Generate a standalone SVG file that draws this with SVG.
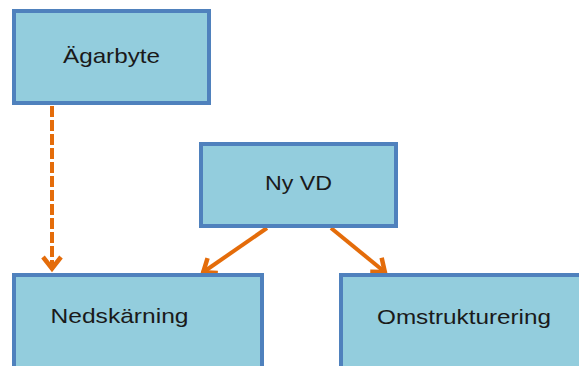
<svg xmlns="http://www.w3.org/2000/svg" width="579" height="366" viewBox="0 0 579 366">
  <style>
    .box { fill: #93CDDD; stroke: #4F81BD; stroke-width: 4; }
    .label { font-family: "Liberation Sans", Arial, sans-serif; font-size: 21px; fill: #1a1a1a; }
    .link { stroke: #E46C0A; stroke-width: 4; fill: none; }
    .dashed { stroke-dasharray: 11 3; }
  </style>
  <defs>
    <marker id="arrow" markerUnits="userSpaceOnUse" viewBox="-20 -15 30 30" markerWidth="30" markerHeight="30" refX="0" refY="0" orient="auto">
      <path d="M-13,-9 L-1.5,0 L-13,9" fill="none" stroke="#E46C0A" stroke-width="4.5" stroke-dasharray="none"/>
    </marker>
  </defs>

  <g id="connectors">
    <line class="link dashed" x1="52" y1="106" x2="52" y2="270" marker-end="url(#arrow)"/>
    <line class="link" x1="267" y1="228" x2="202" y2="273" marker-end="url(#arrow)"/>
    <line class="link" x1="331" y1="228" x2="386" y2="273" marker-end="url(#arrow)"/>
  </g>

  <g id="node-agarbyte">
    <rect class="box" x="14" y="11" width="195" height="92"/>
    <text class="label" x="63" y="62.5" textLength="97" lengthAdjust="spacingAndGlyphs">Ägarbyte</text>
  </g>

  <g id="node-ny-vd">
    <rect class="box" x="201" y="144" width="195" height="82"/>
    <text class="label" x="265" y="190" textLength="67" lengthAdjust="spacingAndGlyphs">Ny VD</text>
  </g>

  <g id="node-nedskarning">
    <rect class="box" x="14" y="275" width="248" height="100"/>
    <text class="label" x="50.5" y="323" textLength="138" lengthAdjust="spacingAndGlyphs">Nedskärning</text>
  </g>

  <g id="node-omstrukturering">
    <rect class="box" x="341" y="275" width="250" height="100"/>
    <text class="label" x="377" y="324" textLength="174" lengthAdjust="spacingAndGlyphs">Omstrukturering</text>
  </g>
</svg>
